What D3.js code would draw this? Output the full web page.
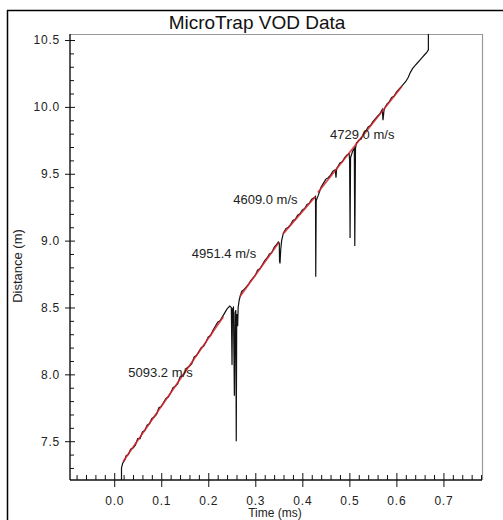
<!DOCTYPE html>
<html>
<head>
<meta charset="utf-8">
<script src="https://cdn.jsdelivr.net/npm/d3@7"></script>
<style>
  html, body { margin: 0; padding: 0; background: #fff; overflow: hidden; }
  svg { display: block; }
  svg text { font-family: "Liberation Sans", Arial, sans-serif; }
</style>
</head>
<body>
<svg id="chart" width="503" height="520"></svg>
<script>
// ---------------- data ----------------
const chartTitle = "MicroTrap VOD Data";
const xLabel = "Time (ms)";
const yLabel = "Distance (m)";

const xDomain = [-0.094, 0.782];
const yDomain = [7.21, 10.545];

const xMajorTicks = [0.0, 0.1, 0.2, 0.3, 0.4, 0.5, 0.6, 0.7];
const xMinorTicks = [-0.08, -0.06, -0.04, -0.02, 0.02, 0.04, 0.06, 0.08, 0.12, 0.14, 0.16, 0.18,
  0.22, 0.24, 0.26, 0.28, 0.32, 0.34, 0.36, 0.38, 0.42, 0.44, 0.46, 0.48, 0.52, 0.54, 0.56, 0.58,
  0.62, 0.64, 0.66, 0.68, 0.72, 0.74, 0.76, 0.78];
const yMajorTicks = [7.5, 8.0, 8.5, 9.0, 9.5, 10.0, 10.5];
const yMinorTicks = [7.3, 7.4, 7.6, 7.7, 7.8, 7.9, 8.1, 8.2, 8.3, 8.4, 8.6, 8.7, 8.8, 8.9,
  9.1, 9.2, 9.3, 9.4, 9.6, 9.7, 9.8, 9.9, 10.1, 10.2, 10.3, 10.4];

// measured trace (black)
const traceTime = [
  0.0155, 0.0155, 0.018, 0.0228, 0.025, 0.03, 0.035, 0.04, 0.045, 0.05, 0.055, 0.06, 0.065, 0.07,
  0.075, 0.08, 0.085, 0.09, 0.095, 0.10, 0.105, 0.11, 0.115, 0.12, 0.125, 0.13, 0.135, 0.14,
  0.145, 0.15, 0.155, 0.16, 0.165, 0.17, 0.175, 0.18, 0.185, 0.19, 0.195, 0.20, 0.205, 0.21,
  0.215, 0.22, 0.225, 0.23, 0.235, 0.24, 0.2455, 0.249, 0.2505, 0.2515, 0.2535, 0.2555, 0.257,
  0.2585, 0.2595, 0.2605, 0.2625, 0.2635, 0.266, 0.271, 0.275, 0.28, 0.285, 0.29, 0.295, 0.30,
  0.305, 0.31, 0.315, 0.32, 0.325, 0.33, 0.335, 0.34, 0.345, 0.349, 0.351, 0.3515, 0.3525,
  0.354, 0.356, 0.3596, 0.365, 0.37, 0.375, 0.38, 0.385, 0.39, 0.395, 0.40, 0.405, 0.41, 0.415,
  0.42, 0.425, 0.428, 0.4285, 0.4295, 0.434, 0.44, 0.445, 0.45, 0.455, 0.46, 0.465, 0.47,
  0.4715, 0.473, 0.475, 0.48, 0.485, 0.49, 0.495, 0.4995, 0.5005, 0.5015, 0.5025, 0.507,
  0.5105, 0.5115, 0.513, 0.515, 0.52, 0.525, 0.53, 0.535, 0.54, 0.545, 0.55, 0.555, 0.56,
  0.565, 0.57, 0.5715, 0.5735, 0.575, 0.58, 0.585, 0.59, 0.595, 0.60, 0.605, 0.61, 0.615,
  0.62, 0.625, 0.63, 0.635, 0.64, 0.645, 0.65, 0.655, 0.66, 0.665, 0.668, 0.668];
const traceDist = [
  7.20, 7.30, 7.335, 7.362, 7.39, 7.40, 7.44, 7.45, 7.47, 7.52, 7.52, 7.57, 7.58, 7.62,
  7.63, 7.67, 7.68, 7.70, 7.75, 7.76, 7.79, 7.82, 7.83, 7.86, 7.90, 7.91, 7.93, 7.98,
  7.99, 8.01, 8.05, 8.06, 8.08, 8.13, 8.14, 8.17, 8.20, 8.21, 8.24, 8.28, 8.29, 8.33,
  8.36, 8.39, 8.40, 8.43, 8.46, 8.49, 8.51, 8.50, 8.07, 8.49, 8.50, 7.84, 8.46,
  8.48, 7.50, 8.45, 8.36, 8.50, 8.56, 8.62, 8.63, 8.65, 8.67, 8.70, 8.72, 8.74,
  8.78, 8.79, 8.82, 8.85, 8.87, 8.90, 8.91, 8.95, 8.97, 8.99, 8.98, 8.85, 8.83,
  8.93, 9.00, 9.056, 9.09, 9.10, 9.12, 9.15, 9.16, 9.19, 9.20, 9.23, 9.24, 9.27, 9.28,
  9.31, 9.32, 9.33, 8.73, 9.30, 9.34, 9.40, 9.43, 9.46, 9.47, 9.49, 9.52, 9.53,
  9.47, 9.54, 9.55, 9.58, 9.59, 9.62, 9.64, 9.65, 9.60, 9.02, 9.62, 9.67,
  9.69, 8.96, 9.69, 9.73, 9.75, 9.76, 9.80, 9.82, 9.85, 9.86, 9.89, 9.91, 9.93,
  9.95, 9.98, 9.90, 9.97, 9.99, 10.02, 10.04, 10.07, 10.08, 10.11, 10.13, 10.15, 10.17,
  10.19, 10.22, 10.26, 10.29, 10.31, 10.33, 10.35, 10.37, 10.39, 10.41, 10.426, 10.60];

// linear fits (red)
const fitStartTime = [0.019, 0.267, 0.359, 0.433];
const fitStartDist = [7.349, 8.58, 9.05, 9.36];
const fitEndTime = [0.232, 0.350, 0.428, 0.6115];
const fitEndDist = [8.43, 8.985, 9.33, 10.152];

// velocity annotations
const velocityLabels = ["5093.2 m/s", "4951.4 m/s", "4609.0 m/s", "4729.0 m/s"];
const labelTime = [0.030, 0.165, 0.253, 0.459];
const labelDist = [7.978, 8.868, 9.271, 9.757];

// ---------------- drawing ----------------
const svg = d3.select("#chart");
const plotLeft = 70, plotRight = 482, plotTop = 34, plotBottom = 480;

const x = d3.scaleLinear().domain(xDomain).range([plotLeft, plotRight]);
const y = d3.scaleLinear().domain(yDomain).range([plotBottom, plotTop]);

// outer border (top and left visible; right/bottom lie outside the picture)
svg.append("line").attr("x1", 7).attr("x2", 503).attr("y1", 10.5).attr("y2", 10.5)
  .attr("stroke", "#000").attr("stroke-width", 1.5);
svg.append("line").attr("x1", 7.5).attr("x2", 7.5).attr("y1", 10).attr("y2", 520)
  .attr("stroke", "#000").attr("stroke-width", 1.5);

// title
svg.append("text").attr("x", 257).attr("y", 28.5).attr("text-anchor", "middle")
  .attr("font-size", 19).attr("fill", "#111").text(chartTitle);

// plot frame: top/right gray
svg.append("line").attr("x1", plotLeft).attr("x2", plotRight).attr("y1", plotTop + 0.5).attr("y2", plotTop + 0.5)
  .attr("stroke", "#999").attr("stroke-width", 1.2);
svg.append("line").attr("x1", plotRight + 0.5).attr("x2", plotRight + 0.5).attr("y1", plotTop).attr("y2", plotBottom)
  .attr("stroke", "#999").attr("stroke-width", 1.2);

// data
svg.append("clipPath").attr("id", "clip").append("rect")
  .attr("x", plotLeft).attr("y", plotTop).attr("width", plotRight - plotLeft).attr("height", plotBottom - plotTop);
const plot = svg.append("g").attr("clip-path", "url(#clip)");

const trace = traceTime.map((t, i) => [t, traceDist[i]]);
const line = d3.line().x(d => x(d[0])).y(d => y(d[1]));
plot.append("path").datum(trace).attr("d", line)
  .attr("fill", "none").attr("stroke", "#111").attr("stroke-width", 1.2)
  .attr("stroke-linejoin", "miter");

fitStartTime.forEach((t, i) => {
  plot.append("path").datum([[t, fitStartDist[i]], [fitEndTime[i], fitEndDist[i]]])
    .attr("d", line).attr("fill", "none").attr("stroke", "#d3242b").attr("stroke-width", 1.7)
    .attr("stroke-opacity", 0.85);
});

// annotations
velocityLabels.forEach((s, i) => {
  svg.append("text").attr("x", x(labelTime[i])).attr("y", y(labelDist[i]))
    .attr("font-size", 13).attr("fill", "#222").text(s);
});

// x axis
const gx = svg.append("g").attr("transform", `translate(0,${plotBottom})`);
gx.call(d3.axisBottom(x).tickValues(xMajorTicks).tickSizeInner(7).tickSizeOuter(0)
  .tickPadding(9).tickFormat(d3.format(".1f")));
gx.append("g").call(d3.axisTop(x).tickValues(xMajorTicks).tickSize(7).tickFormat(""));
gx.append("g").call(d3.axisTop(x).tickValues(xMinorTicks).tickSize(5).tickFormat(""));
gx.selectAll(".domain").remove();
gx.selectAll("text").attr("font-size", 12).attr("font-family", "Liberation Sans, Arial, sans-serif")
  .attr("fill", "#222").attr("letter-spacing", 0.8);
gx.selectAll("line").attr("stroke", "#111");

// y axis
const gy = svg.append("g").attr("transform", `translate(${plotLeft},0)`);
gy.call(d3.axisLeft(y).tickValues(yMajorTicks).tickSizeInner(5).tickSizeOuter(0)
  .tickPadding(5).tickFormat(d3.format(".1f")));
gy.append("g").call(d3.axisRight(y).tickValues(yMajorTicks).tickSize(5).tickFormat(""));
gy.append("g").call(d3.axisRight(y).tickValues(yMinorTicks).tickSize(4).tickFormat(""));
gy.selectAll(".domain").remove();
gy.selectAll("text").attr("font-size", 12).attr("font-family", "Liberation Sans, Arial, sans-serif")
  .attr("fill", "#222").attr("letter-spacing", 0.8);
gy.selectAll("line").attr("stroke", "#111");

// axis lines
svg.append("line").attr("x1", plotLeft).attr("x2", plotLeft).attr("y1", plotTop).attr("y2", plotBottom)
  .attr("stroke", "#111").attr("stroke-width", 1.4);
svg.append("line").attr("x1", plotLeft).attr("x2", plotRight).attr("y1", plotBottom).attr("y2", plotBottom)
  .attr("stroke", "#111").attr("stroke-width", 1.4);

// axis titles
svg.append("text").attr("x", 275).attr("y", 517).attr("text-anchor", "middle")
  .attr("font-size", 12).attr("fill", "#222").text(xLabel);
svg.append("text").attr("transform", "translate(22,266) rotate(-90)").attr("text-anchor", "middle")
  .attr("font-size", 13).attr("fill", "#222").text(yLabel);
</script>
</body>
</html>
